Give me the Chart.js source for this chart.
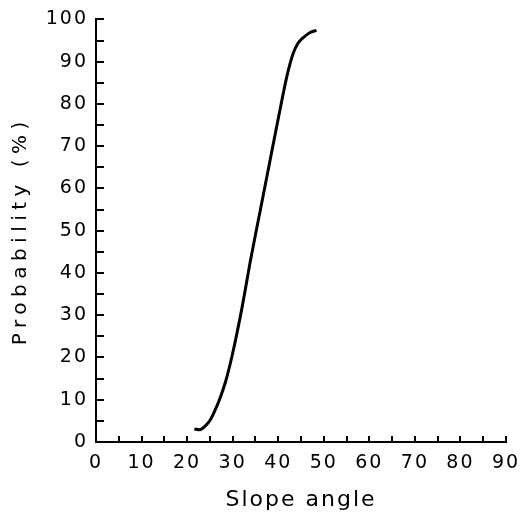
<!DOCTYPE html>
<html>
<head>
<meta charset="utf-8">
<script src="https://cdn.jsdelivr.net/npm/chart.js@4/dist/chart.umd.min.js"></script>
<style>
  html, body { margin: 0; padding: 0; background: #fff; }
  #wrap { width: 521px; height: 514px; position: relative; }
</style>
</head>
<body>
<div id="wrap"><canvas id="chart"></canvas></div>
<script>
const slopeAngle = [21.6, 22.8, 24, 25, 26, 27.2, 28.5, 30, 32, 34, 36, 38, 40, 42, 43.3, 44.3, 45.5, 47, 48.4];
const probability = [3.1, 2.9, 3.8, 5.1, 7.2, 10.3, 14.5, 21, 31.5, 43.5, 54.5, 65.5, 76.5, 87, 92, 94.3, 95.7, 96.9, 97.4];
const xTicks = [0, 10, 20, 30, 40, 50, 60, 70, 80, 90];
const yTicks = [0, 10, 20, 30, 40, 50, 60, 70, 80, 90, 100];

const FONT = "'DejaVu Sans', sans-serif";

// y title is drawn first (wide spacing), the rest after the curve
const spacing = {
  id: "spacing",
  beforeDraw(chart) {
    chart.ctx.letterSpacing = "5.5px";
  },
  beforeDatasetsDraw(chart) {
    chart.ctx.letterSpacing = "2px";
  },
};

// ticks of the original point inward, every 5 units
const innerTicks = {
  id: "innerTicks",
  afterDraw(chart) {
    const { ctx, chartArea, scales } = chart;
    ctx.save();
    ctx.strokeStyle = "#000";
    ctx.lineWidth = 2;
    ctx.beginPath();
    for (let v = 5; v <= 100; v += 5) {
      const y = Math.round(scales.y.getPixelForValue(v));
      ctx.moveTo(chartArea.left, y);
      ctx.lineTo(chartArea.left + 8, y);
    }
    for (let v = 5; v <= 90; v += 5) {
      const x = Math.round(scales.x.getPixelForValue(v));
      ctx.moveTo(x, chartArea.bottom);
      ctx.lineTo(x, chartArea.bottom - 6);
    }
    ctx.stroke();
    ctx.restore();
  },
};

const points = slopeAngle.map((x, i) => ({ x, y: probability[i] }));

new Chart(document.getElementById("chart"), {
  type: "scatter",
  data: {
    datasets: [
      {
        data: points,
        showLine: true,
        borderColor: "#000",
        borderWidth: 3,
        pointRadius: 0,
        cubicInterpolationMode: "monotone",
      },
    ],
  },
  options: {
    responsive: true,
    maintainAspectRatio: false,
    animation: false,
    layout: { padding: { left: 0, right: 15, top: 18, bottom: 0 } },
    plugins: { legend: { display: false }, tooltip: { enabled: false } },
    scales: {
      x: {
        type: "linear",
        min: 0,
        max: 90,
        afterBuildTicks: (scale) => {
          scale.ticks = xTicks.map((value) => ({ value }));
        },
        afterFit: (scale) => {
          scale.height = 72;
          scale.paddingLeft = 0;
          scale.paddingRight = 0;
        },
        grid: { display: false, drawTicks: false, z: 1 },
        border: { display: true, color: "#000", width: 2, z: 1 },
        ticks: { color: "#000", padding: 10, font: { family: FONT, size: 19 }, z: 1 },
        title: {
          display: true,
          text: "Slope angle",
          color: "#000",
          font: { family: FONT, size: 22 },
          padding: { top: 0, bottom: 1 },
        },
      },
      y: {
        min: 0,
        max: 100,
        afterBuildTicks: (scale) => {
          scale.ticks = yTicks.map((value) => ({ value }));
        },
        afterFit: (scale) => {
          scale.width = 96;
        },
        grid: { display: false, drawTicks: false },
        border: { display: true, color: "#000", width: 2 },
        ticks: { color: "#000", padding: 8, font: { family: FONT, size: 19 }, z: 1 },
        title: {
          display: true,
          text: "Probability (%)",
          color: "#000",
          font: { family: FONT, size: 20 },
          padding: { top: 9, bottom: 0 },
        },
      },
    },
  },
  plugins: [spacing, innerTicks],
});
</script>
</body>
</html>
